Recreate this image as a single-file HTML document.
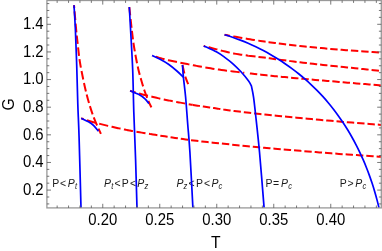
<!DOCTYPE html>
<html><head><meta charset="utf-8"><title>G-T</title>
<style>
html,body{margin:0;padding:0;background:#fff;}
body{width:382px;height:251px;overflow:hidden;position:relative;font-family:"Liberation Sans",sans-serif;}
svg text{font-family:"Liberation Sans",sans-serif;}
</style></head><body>
<svg width="382" height="251" viewBox="0 0 382 251" style="position:absolute;left:0;top:0;will-change:transform">
<rect x="0" y="0" width="382" height="251" fill="#fff"/>
<text transform="translate(52.30,186.70) scale(1,1.1)" font-size="10.5" fill="#1a1a1a"><tspan dx="0.00">P</tspan><tspan dx="0.80">&lt;</tspan><tspan font-style="italic" dx="1.60">P</tspan><tspan font-style="italic" font-size="7.56" dx="0.20" dy="1.90">t</tspan></text>
<text transform="translate(104.00,186.70) scale(1,1.1)" font-size="10.5" fill="#1a1a1a"><tspan font-style="italic" dx="0.00">P</tspan><tspan font-style="italic" font-size="7.56" dx="0.20" dy="1.90">t</tspan><tspan dy="-1.90" dx="1.20">&lt;</tspan><tspan dx="1.20">P</tspan><tspan dx="1.20">&lt;</tspan><tspan font-style="italic" dx="1.20">P</tspan><tspan font-style="italic" font-size="7.56" dx="0.20" dy="1.90">z</tspan></text>
<text transform="translate(176.40,186.70) scale(1,1.1)" font-size="10.5" fill="#1a1a1a"><tspan font-style="italic" dx="0.00">P</tspan><tspan font-style="italic" font-size="7.56" dx="0.20" dy="1.90">z</tspan><tspan dy="-1.90" dx="1.20">&lt;</tspan><tspan dx="1.20">P</tspan><tspan dx="1.20">&lt;</tspan><tspan font-style="italic" dx="1.20">P</tspan><tspan font-style="italic" font-size="7.56" dx="0.20" dy="1.90">c</tspan></text>
<text transform="translate(265.60,186.70) scale(1,1.1)" font-size="10.5" fill="#1a1a1a"><tspan dx="0.00">P</tspan><tspan dx="0.50">=</tspan><tspan font-style="italic" dx="1.90">P</tspan><tspan font-style="italic" font-size="7.56" dx="0.20" dy="1.90">c</tspan></text>
<text transform="translate(339.70,186.70) scale(1,1.1)" font-size="10.5" fill="#1a1a1a"><tspan dx="0.00">P</tspan><tspan dx="0.70">&gt;</tspan><tspan font-style="italic" dx="1.70">P</tspan><tspan font-style="italic" font-size="7.56" dx="0.20" dy="1.90">c</tspan></text>
<g fill="none" stroke="#ff0000" stroke-width="2.0" stroke-dasharray="9 3.6">
<path d="M100.90 133.90 C99.67 131.05 95.85 123.28 93.50 116.80 C91.15 110.32 88.98 103.63 86.80 95.00 C84.62 86.37 81.95 73.83 80.40 65.00 C78.85 56.17 78.20 47.83 77.50 42.00 C76.80 36.17 76.78 36.13 76.20 30.00 C75.62 23.87 74.37 9.33 74.00 5.20" stroke-dasharray="8.6 3.4" stroke-dashoffset="2.7"/>
<path d="M81.20 118.30 L81.58 118.43 L82.05 118.59 L82.59 118.78 L83.20 118.99 L83.87 119.22 L84.58 119.47 L85.33 119.72 L86.11 119.99 L86.90 120.25 L87.71 120.51 L88.51 120.76 L89.30 121.00 L90.10 121.23 L90.92 121.47 L91.76 121.71 L92.63 121.95 L93.51 122.19 L94.41 122.44 L95.32 122.68 L96.24 122.93 L97.17 123.17 L98.11 123.41 L99.05 123.66 L100.00 123.90 L100.95 124.14 L101.92 124.39 L102.91 124.63 L103.90 124.88 L104.91 125.12 L105.92 125.37 L106.93 125.61 L107.95 125.86 L108.97 126.10 L109.98 126.33 L111.00 126.57 L112.00 126.80 L113.00 127.03 L114.02 127.26 L115.04 127.49 L116.06 127.71 L117.08 127.93 L118.09 128.16 L119.11 128.37 L120.11 128.59 L121.11 128.80 L122.09 129.00 L123.05 129.21 L124.00 129.40 L124.88 129.58 L125.66 129.74 L126.38 129.89 L127.06 130.03 L127.72 130.16 L128.41 130.30 L129.14 130.44 L129.94 130.59 L130.86 130.76 L131.90 130.95 L133.10 131.16 L134.50 131.40 L136.08 131.67 L137.82 131.97 L139.69 132.29 L141.69 132.62 L143.78 132.97 L145.97 133.34 L148.23 133.71 L150.10 134.02" stroke-dasharray="9.2 3.5" stroke-dashoffset="6.6"/>
<path d="M150.10 134.02 L150.54 134.09 L152.89 134.47 L155.26 134.85 L157.63 135.23 L160.00 135.60 L162.38 135.97 L164.83 136.36 L167.32 136.75 L169.85 137.14 L172.43 137.54 L175.03 137.94 L177.66 138.33 L180.31 138.73 L182.98 139.11 L185.65 139.49 L188.33 139.85 L191.00 140.20 L193.68 140.54 L196.40 140.86 L199.13 141.18 L201.89 141.49 L204.66 141.79 L207.44 142.09 L210.22 142.38 L213.00 142.67 L215.77 142.95 L218.53 143.23 L221.28 143.52 L224.00 143.80 L226.70 144.08 L229.37 144.36 L232.02 144.63 L234.67 144.90 L237.30 145.17 L239.94 145.44 L242.58 145.70 L245.22 145.96 L247.88 146.22 L250.56 146.48 L253.27 146.74 L256.00 147.00 L258.73 147.26 L261.42 147.50 L264.10 147.75 L266.78 147.99 L269.47 148.23 L272.19 148.48 L274.95 148.72 L277.78 148.96 L280.68 149.21 L283.67 149.47 L286.78 149.73 L290.00 150.00 L293.36 150.28 L296.85 150.57 L300.45 150.87 L304.14 151.17 L307.90 151.48 L311.73 151.79 L315.60 152.10 L319.50 152.41 L323.40 152.71 L327.30 153.02 L331.17 153.31 L335.00 153.60 L338.96 153.89 L343.18 154.19 L347.57 154.50 L352.05 154.81 L356.54 155.12 L360.96 155.42 L365.22 155.71 L369.25 155.99 L372.95 156.23 L376.25 156.46 L379.06 156.65 L381.30 156.80" stroke-dasharray="7.4 2.95" stroke-dashoffset="0"/>
<path d="M151.40 107.40 C150.87 106.23 149.33 103.13 148.20 100.40 C147.07 97.67 145.72 94.23 144.60 91.00 C143.48 87.77 142.52 84.50 141.50 81.00 C140.48 77.50 139.42 73.83 138.50 70.00 C137.58 66.17 136.82 62.33 136.00 58.00 C135.18 53.67 134.30 48.67 133.60 44.00 C132.90 39.33 132.52 36.17 131.80 30.00 C131.08 23.83 129.72 10.83 129.30 7.00" stroke-dasharray="8.6 3.4" stroke-dashoffset="1.3"/>
<path d="M130.10 90.80 L130.57 90.95 L131.16 91.13 L131.85 91.35 L132.63 91.59 L133.47 91.85 L134.36 92.13 L135.30 92.42 L136.25 92.71 L137.22 93.00 L138.17 93.28 L139.10 93.55 L140.00 93.80 L140.87 94.03 L141.73 94.26 L142.60 94.48 L143.47 94.70 L144.35 94.92 L145.24 95.14 L146.15 95.35 L147.07 95.57 L148.01 95.80 L148.98 96.02 L149.97 96.26 L151.00 96.50 L152.06 96.75 L153.16 97.01 L154.29 97.28 L155.44 97.55 L156.62 97.82 L157.81 98.10 L159.01 98.38 L160.22 98.65 L161.43 98.92 L162.63 99.19 L163.82 99.45 L165.00 99.70 L166.16 99.94 L167.30 100.18 L168.43 100.40 L169.56 100.63 L170.68 100.85 L171.81 101.06 L172.95 101.28 L174.11 101.50 L175.29 101.72 L176.49 101.94 L177.73 102.17 L179.00 102.40 L180.31 102.64 L181.65 102.89 L183.02 103.14 L184.41 103.39 L185.82 103.64 L187.25 103.90 L188.69 104.16 L190.15 104.41 L191.61 104.66 L192.60 104.83" stroke-dasharray="9.2 3.5" stroke-dashoffset="3.35"/>
<path d="M192.60 104.83 L193.07 104.91 L194.54 105.16 L196.00 105.40 L197.47 105.64 L198.97 105.87 L200.48 106.10 L202.00 106.33 L203.53 106.56 L205.06 106.79 L206.59 107.01 L208.11 107.23 L209.62 107.45 L211.10 107.67 L212.57 107.89 L214.00 108.10 L215.36 108.31 L216.62 108.50 L217.81 108.70 L218.96 108.88 L220.10 109.07 L221.25 109.25 L222.44 109.44 L223.70 109.63 L225.06 109.83 L226.55 110.04 L228.18 110.26 L230.00 110.50 L232.01 110.75 L234.19 111.03 L236.52 111.31 L238.96 111.60 L241.51 111.91 L244.12 112.21 L246.79 112.52 L249.48 112.83 L252.17 113.13 L254.84 113.43 L257.46 113.72 L260.00 114.00 L262.45 114.26 L264.83 114.52 L267.15 114.76 L269.44 114.99 L271.74 115.22 L274.06 115.46 L276.44 115.69 L278.89 115.93 L281.45 116.18 L284.13 116.44 L286.97 116.71 L290.00 117.00 L293.22 117.31 L296.62 117.64 L300.16 117.98 L303.84 118.33 L307.62 118.69 L311.48 119.06 L315.40 119.42 L319.35 119.79 L323.31 120.16 L327.25 120.52 L331.16 120.86 L335.00 121.20 L338.96 121.54 L343.18 121.89 L347.57 122.25 L352.05 122.61 L356.54 122.96 L360.96 123.31 L365.22 123.65 L369.25 123.96 L372.95 124.25 L376.25 124.50 L379.06 124.72 L381.30 124.90" stroke-dasharray="7.4 2.95" stroke-dashoffset="0"/>
<path d="M182.50 65.00 C182.90 66.75 183.95 72.32 184.90 75.50 C185.85 78.68 187.65 82.67 188.20 84.10" stroke-dasharray="8.6 3.4" stroke-dashoffset="0"/>
<path d="M152.10 55.60 L152.77 55.80 L153.59 56.06 L154.56 56.36 L155.64 56.70 L156.83 57.06 L158.08 57.45 L159.39 57.85 L160.73 58.25 L162.09 58.64 L163.43 59.02 L164.74 59.38 L166.00 59.70 L167.23 60.00 L168.46 60.28 L169.69 60.55 L170.94 60.82 L172.19 61.08 L173.46 61.33 L174.75 61.58 L176.05 61.84 L177.38 62.09 L178.72 62.35 L180.10 62.62 L181.50 62.90 L182.92 63.19 L184.35 63.47 L185.79 63.77 L187.24 64.06 L188.72 64.36 L190.22 64.66 L191.75 64.97 L193.31 65.27 L194.92 65.58 L196.56 65.88 L198.26 66.19 L200.00 66.50 L201.76 66.81 L203.50 67.11 L205.24 67.41 L207.00 67.72 L208.80 68.02 L210.66 68.33 L212.59 68.64 L214.61 68.96 L216.75 69.28 L219.01 69.61 L221.42 69.95 L224.00 70.30 L226.82 70.67 L229.90 71.06 L233.20 71.46 L236.67 71.88 L240.24 72.30 L243.88 72.72 L244.30 72.77" stroke-dasharray="9.2 3.5" stroke-dashoffset="8.9"/>
<path d="M249.90 73.42 L251.11 73.56 L254.61 73.95 L257.96 74.33 L261.11 74.68 L264.00 75.00 L266.60 75.29 L268.92 75.54 L271.04 75.76 L273.00 75.97 L274.86 76.16 L276.69 76.34 L278.53 76.52 L280.44 76.71 L282.49 76.90 L284.73 77.11 L287.21 77.34 L290.00 77.60 L293.08 77.88 L296.39 78.19 L299.88 78.51 L303.54 78.84 L307.34 79.18 L311.23 79.52 L315.20 79.88 L319.20 80.23 L323.21 80.58 L327.20 80.93 L331.14 81.27 L335.00 81.60 L338.96 81.94 L343.18 82.29 L347.57 82.65 L352.05 83.02 L356.54 83.39 L360.96 83.75 L365.22 84.10 L369.25 84.42 L372.95 84.72 L376.25 84.99 L379.06 85.22 L381.30 85.40" stroke-dasharray="7.4 2.95" stroke-dashoffset="0"/>
<path d="M203.70 45.90 L205.14 46.27 L206.93 46.75 L209.04 47.32 L211.40 47.97 L213.97 48.66 L216.69 49.39 L219.52 50.13 L222.41 50.87 L225.30 51.58 L228.15 52.25 L230.90 52.87 L233.50 53.40 L236.00 53.86 L238.48 54.29 L240.95 54.67 L243.41 55.03 L245.88 55.36 L248.20 55.65" stroke-dasharray="9.2 3.5" stroke-dashoffset="7.7"/>
<path d="M248.20 55.65 L248.36 55.68 L250.87 55.98 L253.40 56.29 L255.97 56.59 L258.59 56.91 L261.26 57.24 L264.00 57.60 L266.79 57.98 L269.64 58.36 L272.52 58.75 L275.44 59.14 L278.41 59.54 L281.41 59.94 L284.44 60.34 L287.50 60.74 L290.59 61.13 L293.70 61.53 L296.84 61.92 L300.00 62.30 L303.19 62.68 L306.42 63.05 L309.69 63.43 L312.99 63.80 L316.32 64.16 L319.67 64.53 L323.04 64.90 L326.42 65.26 L329.81 65.62 L333.21 65.98 L336.61 66.34 L340.00 66.70 L343.53 67.07 L347.29 67.46 L351.20 67.86 L355.20 68.27 L359.21 68.68 L363.15 69.08 L366.95 69.46 L370.54 69.82 L373.85 70.15 L376.79 70.45 L379.30 70.70 L381.30 70.90" stroke-dasharray="7.4 2.95" stroke-dashoffset="0"/>
<path d="M224.60 34.80 L225.83 35.02 L227.37 35.30 L229.17 35.63 L231.20 36.00 L233.40 36.40 L235.74 36.82 L238.16 37.25 L240.62 37.69 L243.08 38.13 L245.50 38.54 L247.82 38.94 L250.00 39.30 L252.10 39.64 L254.19 39.97 L256.28 40.30 L258.30 40.61" stroke-dasharray="9.2 3.5" stroke-dashoffset="3.9"/>
<path d="M258.30 40.61 L258.36 40.62 L260.45 40.93 L262.52 41.24 L264.60 41.55 L266.68 41.85 L268.76 42.14 L270.84 42.43 L272.92 42.72 L275.00 43.00 L277.05 43.27 L279.06 43.54 L281.04 43.79 L283.00 44.04 L284.96 44.29 L286.94 44.53 L288.95 44.77 L291.00 45.01 L293.12 45.25 L295.31 45.50 L297.60 45.75 L300.00 46.00 L302.48 46.26 L304.99 46.52 L307.56 46.78 L310.17 47.04 L312.86 47.30 L315.61 47.57 L318.43 47.84 L321.35 48.10 L324.35 48.37 L327.46 48.65 L330.67 48.92 L334.00 49.20 L337.63 49.49 L341.66 49.81 L346.00 50.14 L350.53 50.47 L355.16 50.81 L359.78 51.15 L364.27 51.47 L368.54 51.78 L372.49 52.06 L376.00 52.32 L378.97 52.53 L381.30 52.70" stroke-dasharray="7.4 2.95" stroke-dashoffset="0"/>
</g>
<g fill="none" stroke="#0000ff" stroke-width="1.7" stroke-linejoin="round">
<path d="M74.00 5.20 C74.23 9.33 74.95 20.03 75.40 30.00 C75.85 39.97 76.30 52.67 76.70 65.00 C77.10 77.33 77.40 91.83 77.80 104.00 C78.20 116.17 78.57 120.68 79.10 138.00 C79.63 155.32 80.68 196.25 81.00 207.90"/>
<path d="M81.20 118.30 C82.42 118.88 86.45 120.62 88.50 121.80 C90.55 122.98 91.85 123.83 93.50 125.40 C95.15 126.97 97.58 130.23 98.40 131.20"/>
<path d="M129.30 7.00 C129.52 10.83 130.03 19.50 130.60 30.00 C131.17 40.50 132.17 56.33 132.70 70.00 C133.23 83.67 133.32 97.00 133.80 112.00 C134.28 127.00 135.07 144.02 135.60 160.00 C136.13 175.98 136.77 199.92 137.00 207.90"/>
<path d="M130.10 90.80 C131.50 91.38 136.02 92.97 138.50 94.30 C140.98 95.63 143.27 97.25 145.00 98.80 C146.73 100.35 148.25 102.80 148.90 103.60"/>
<path d="M182.50 65.00 C182.65 67.02 182.88 71.77 183.40 77.10 C183.92 82.43 184.88 89.18 185.60 97.00 C186.32 104.82 186.98 114.83 187.70 124.00 C188.42 133.17 189.03 138.02 189.90 152.00 C190.77 165.98 192.40 198.58 192.90 207.90"/>
<path d="M152.10 55.60 C153.43 56.22 157.37 57.85 160.10 59.30 C162.83 60.75 165.70 62.35 168.50 64.30 C171.30 66.25 174.38 68.83 176.90 71.00 C179.42 73.17 182.48 76.25 183.60 77.30"/>
<path d="M203.70 45.90 C205.88 46.93 213.23 50.15 216.80 52.10 C220.37 54.05 222.32 55.57 225.10 57.60 C227.88 59.63 230.85 61.93 233.50 64.30 C236.15 66.67 238.48 69.02 241.00 71.80 C243.52 74.58 246.87 78.65 248.60 81.00 C250.33 83.35 250.93 85.08 251.40 85.90 L251.40 85.90 C251.75 87.72 252.85 92.45 253.50 96.80 C254.15 101.15 254.30 102.80 255.30 112.00 C256.30 121.20 258.03 136.02 259.50 152.00 C260.97 167.98 263.33 198.58 264.10 207.90"/>
<path d="M224.50 34.70 C225.83 35.12 229.82 36.34 232.47 37.25 C235.11 38.15 237.74 39.11 240.35 40.12 C242.96 41.13 245.56 42.19 248.13 43.31 C250.71 44.42 253.27 45.59 255.81 46.80 C258.34 48.02 260.86 49.28 263.35 50.60 C265.84 51.91 268.31 53.27 270.75 54.68 C273.19 56.09 275.61 57.54 277.99 59.04 C280.38 60.54 282.74 62.09 285.06 63.68 C287.38 65.27 289.68 66.90 291.94 68.58 C294.20 70.25 296.43 71.97 298.61 73.73 C300.80 75.49 302.96 77.29 305.07 79.13 C307.18 80.96 309.26 82.84 311.29 84.76 C313.32 86.67 315.32 88.63 317.26 90.62 C319.21 92.60 321.12 94.63 322.98 96.69 C324.84 98.75 326.66 100.85 328.44 102.98 C330.22 105.11 331.96 107.27 333.65 109.46 C335.34 111.66 337.00 113.88 338.61 116.14 C340.22 118.40 341.79 120.68 343.31 123.00 C344.84 125.31 346.32 127.66 347.77 130.03 C349.21 132.40 350.62 134.80 351.98 137.23 C353.34 139.65 354.66 142.10 355.94 144.58 C357.22 147.05 358.46 149.55 359.66 152.07 C360.86 154.60 362.02 157.14 363.14 159.71 C364.26 162.27 365.34 164.86 366.38 167.47 C367.42 170.08 368.42 172.71 369.37 175.35 C370.33 178.00 371.25 180.67 372.13 183.35 C373.01 186.03 373.85 188.73 374.66 191.44 C375.46 194.16 376.22 196.89 376.94 199.63 C377.67 202.37 378.66 206.52 379.00 207.90"/>
</g>
<rect x="46.90" y="0.50" width="334.40" height="207.40" fill="none" stroke="#999999" stroke-width="1.3"/>
<path d="M57.15 207.90 v-2.40 M57.15 0.50 v2.40 M68.55 207.90 v-2.40 M68.55 0.50 v2.40 M79.95 207.90 v-2.40 M79.95 0.50 v2.40 M91.35 207.90 v-2.40 M91.35 0.50 v2.40 M102.75 207.90 v-4.10 M102.75 0.50 v4.10 M114.15 207.90 v-2.40 M114.15 0.50 v2.40 M125.55 207.90 v-2.40 M125.55 0.50 v2.40 M136.95 207.90 v-2.40 M136.95 0.50 v2.40 M148.35 207.90 v-2.40 M148.35 0.50 v2.40 M159.75 207.90 v-4.10 M159.75 0.50 v4.10 M171.15 207.90 v-2.40 M171.15 0.50 v2.40 M182.55 207.90 v-2.40 M182.55 0.50 v2.40 M193.95 207.90 v-2.40 M193.95 0.50 v2.40 M205.35 207.90 v-2.40 M205.35 0.50 v2.40 M216.75 207.90 v-4.10 M216.75 0.50 v4.10 M228.15 207.90 v-2.40 M228.15 0.50 v2.40 M239.55 207.90 v-2.40 M239.55 0.50 v2.40 M250.95 207.90 v-2.40 M250.95 0.50 v2.40 M262.35 207.90 v-2.40 M262.35 0.50 v2.40 M273.75 207.90 v-4.10 M273.75 0.50 v4.10 M285.15 207.90 v-2.40 M285.15 0.50 v2.40 M296.55 207.90 v-2.40 M296.55 0.50 v2.40 M307.95 207.90 v-2.40 M307.95 0.50 v2.40 M319.35 207.90 v-2.40 M319.35 0.50 v2.40 M330.75 207.90 v-4.10 M330.75 0.50 v4.10 M342.15 207.90 v-2.40 M342.15 0.50 v2.40 M353.55 207.90 v-2.40 M353.55 0.50 v2.40 M364.95 207.90 v-2.40 M364.95 0.50 v2.40 M376.35 207.90 v-2.40 M376.35 0.50 v2.40 M46.90 203.91 h2.40 M381.30 203.91 h-2.40 M46.90 197.00 h2.40 M381.30 197.00 h-2.40 M46.90 190.09 h4.10 M381.30 190.09 h-4.10 M46.90 183.18 h2.40 M381.30 183.18 h-2.40 M46.90 176.28 h2.40 M381.30 176.28 h-2.40 M46.90 169.37 h2.40 M381.30 169.37 h-2.40 M46.90 162.46 h4.10 M381.30 162.46 h-4.10 M46.90 155.55 h2.40 M381.30 155.55 h-2.40 M46.90 148.64 h2.40 M381.30 148.64 h-2.40 M46.90 141.74 h2.40 M381.30 141.74 h-2.40 M46.90 134.83 h4.10 M381.30 134.83 h-4.10 M46.90 127.92 h2.40 M381.30 127.92 h-2.40 M46.90 121.01 h2.40 M381.30 121.01 h-2.40 M46.90 114.10 h2.40 M381.30 114.10 h-2.40 M46.90 107.20 h4.10 M381.30 107.20 h-4.10 M46.90 100.29 h2.40 M381.30 100.29 h-2.40 M46.90 93.38 h2.40 M381.30 93.38 h-2.40 M46.90 86.47 h2.40 M381.30 86.47 h-2.40 M46.90 79.56 h4.10 M381.30 79.56 h-4.10 M46.90 72.66 h2.40 M381.30 72.66 h-2.40 M46.90 65.75 h2.40 M381.30 65.75 h-2.40 M46.90 58.84 h2.40 M381.30 58.84 h-2.40 M46.90 51.93 h4.10 M381.30 51.93 h-4.10 M46.90 45.02 h2.40 M381.30 45.02 h-2.40 M46.90 38.12 h2.40 M381.30 38.12 h-2.40 M46.90 31.21 h2.40 M381.30 31.21 h-2.40 M46.90 24.30 h4.10 M381.30 24.30 h-4.10 M46.90 17.39 h2.40 M381.30 17.39 h-2.40 M46.90 10.48 h2.40 M381.30 10.48 h-2.40 M46.90 3.58 h2.40 M381.30 3.58 h-2.40" fill="none" stroke="#555555" stroke-width="0.8"/>
<g font-size="14.9" fill="#000">
<text transform="translate(102.75,225.00) scale(1,1.07)" text-anchor="middle">0.20</text>
<text transform="translate(159.75,225.00) scale(1,1.07)" text-anchor="middle">0.25</text>
<text transform="translate(216.75,225.00) scale(1,1.07)" text-anchor="middle">0.30</text>
<text transform="translate(273.75,225.00) scale(1,1.07)" text-anchor="middle">0.35</text>
<text transform="translate(330.75,225.00) scale(1,1.07)" text-anchor="middle">0.40</text>
<text transform="translate(43.60,194.99) scale(1,1.07)" text-anchor="end">0.2</text>
<text transform="translate(43.60,167.36) scale(1,1.07)" text-anchor="end">0.4</text>
<text transform="translate(43.60,139.73) scale(1,1.07)" text-anchor="end">0.6</text>
<text transform="translate(43.60,112.10) scale(1,1.07)" text-anchor="end">0.8</text>
<text transform="translate(43.60,84.46) scale(1,1.07)" text-anchor="end">1.0</text>
<text transform="translate(43.60,56.83) scale(1,1.07)" text-anchor="end">1.2</text>
<text transform="translate(43.60,29.20) scale(1,1.07)" text-anchor="end">1.4</text>
</g>
<text transform="translate(215.8,247.70) scale(1,1.04)" font-size="15.7" text-anchor="middle" fill="#000">T</text>
<text transform="translate(14.20,104.4) rotate(-90) scale(1,1.08)" font-size="15.7" text-anchor="middle" fill="#000">G</text>
</svg>
</body></html>
